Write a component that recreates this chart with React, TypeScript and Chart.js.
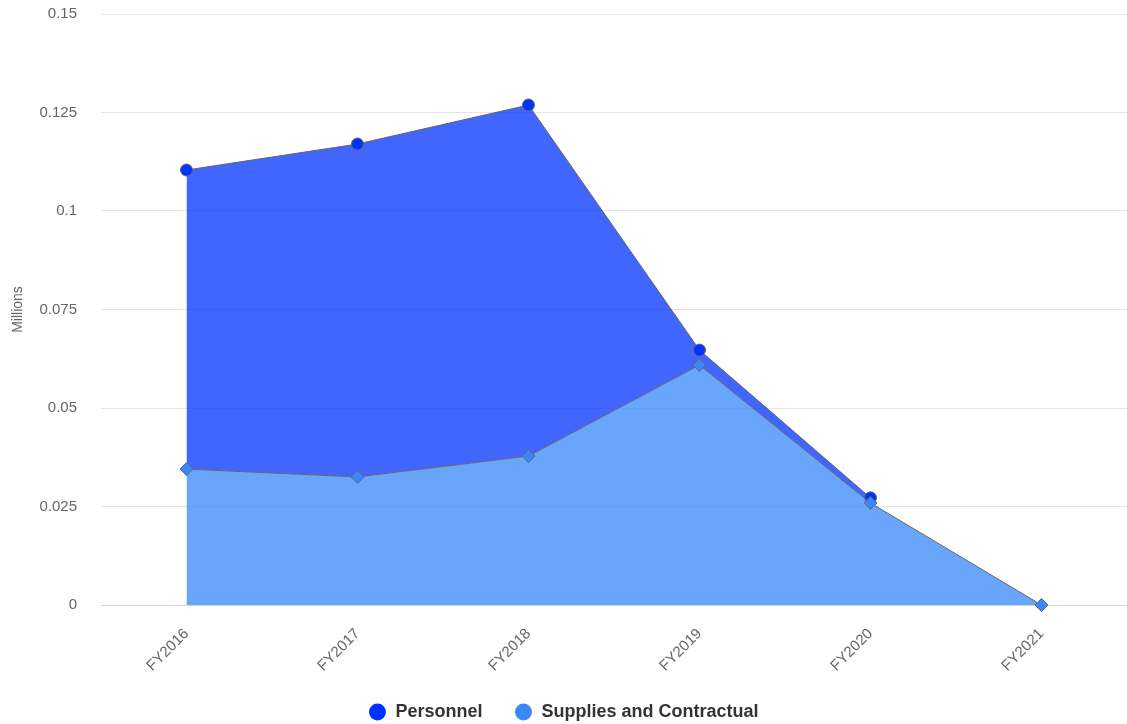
import React, { useEffect, useRef } from "react";
import { Chart, registerables } from "chart.js";

Chart.register(...registerables);

const categories = ["FY2016", "FY2017", "FY2018", "FY2019", "FY2020", "FY2021"];
const suppliesValues = [0.0345, 0.0325, 0.0378, 0.0609, 0.0259, 0];
const personnelValues = [0.0759, 0.0845, 0.0891, 0.0038, 0.0013, null];
const yTickValues = [0, 0.025, 0.05, 0.075, 0.1, 0.125, 0.15];

const FONT = "'Liberation Sans', Arial, Helvetica, sans-serif";

export default function App() {
  const ref = useRef<HTMLCanvasElement | null>(null);

  useEffect(() => {
    document.body.style.margin = "0";
    const canvas = ref.current;
    if (!canvas) return;
    const chart = new Chart(canvas, {
      type: "line",
      data: {
        labels: categories,
        datasets: [
          {
            label: "Supplies and Contractual",
            data: suppliesValues,
            borderColor: "#666666",
            borderWidth: 1,
            backgroundColor: "rgba(56,135,251,0.75)",
            fill: "origin",
            pointStyle: "rectRot",
            pointRadius: 6.5,
            pointBackgroundColor: "#3a87fa",
            pointBorderColor: "#666666",
            pointBorderWidth: 1,
            tension: 0,
            clip: false,
          },
          {
            label: "Personnel",
            data: personnelValues,
            borderColor: "#666666",
            borderWidth: 1,
            backgroundColor: "rgba(0,51,255,0.75)",
            fill: "-1",
            pointStyle: "circle",
            pointRadius: 6,
            pointBackgroundColor: "#0033ff",
            pointBorderColor: "#666666",
            pointBorderWidth: 1,
            tension: 0,
            clip: false,
          },
        ],
      },
      options: {
        responsive: false,
        animation: false,
        devicePixelRatio: 1,
        layout: { autoPadding: false, padding: { top: 14, right: 0, left: 0, bottom: 0 } },
        scales: {
          x: {
            offset: true,
            grid: { display: false, drawTicks: false },
            border: { display: true, color: "#ccd6eb", width: 1 },
            ticks: {
              color: "#666666",
              font: { family: FONT, size: 15 },
              minRotation: 45,
              maxRotation: 45,
              padding: 20,
              autoSkip: false,
            },
            afterFit: (scale: any) => {
              scale.height = 66;
              scale.paddingLeft = 0;
              scale.paddingRight = 0;
            },
          },
          y: {
            stacked: true,
            min: 0,
            max: 0.15,
            afterBuildTicks: (scale: any) => {
              scale.ticks = yTickValues.map((v) => ({ value: v }));
            },
            grid: { color: "#e6e6e6", drawTicks: false },
            border: { display: false },
            ticks: {
              color: "#666666",
              font: { family: FONT, size: 15 },
              padding: 24,
              callback: (v: any) => `${+Number(v).toFixed(4)}`,
            },
            title: {
              display: true,
              text: "Millions",
              color: "#666666",
              font: { family: FONT, size: 14 },
              padding: { top: 10, bottom: 0 },
            },
            afterFit: (scale: any) => {
              scale.width = 101;
              scale.paddingTop = 0;
              scale.paddingBottom = 0;
            },
          },
        },
        plugins: {
          legend: {
            position: "bottom",
            reverse: true,
            maxHeight: 53,
            labels: {
              usePointStyle: true,
              boxHeight: 12,
              boxWidth: 18,
              padding: 32,
              color: "#333333",
              font: { family: FONT, size: 18, weight: "bold" },
              generateLabels: (ch: any) => {
                const items = Chart.defaults.plugins.legend.labels.generateLabels(ch);
                return items.map((it: any) => {
                  const ds = ch.data.datasets[it.datasetIndex];
                  return {
                    ...it,
                    pointStyle: "circle",
                    fillStyle: ds.pointBackgroundColor,
                    strokeStyle: ds.pointBackgroundColor,
                    lineWidth: 0,
                  };
                });
              },
            },
          },
          tooltip: { enabled: false },
        },
      },
    } as any);
    return () => chart.destroy();
  }, []);

  return (
    <div style={{ position: "fixed", left: 0, top: 0, width: 1127, height: 724, background: "#fff" }}>
      <canvas ref={ref} width={1127} height={724} style={{ width: 1127, height: 724, display: "block" }} />
    </div>
  );
}
